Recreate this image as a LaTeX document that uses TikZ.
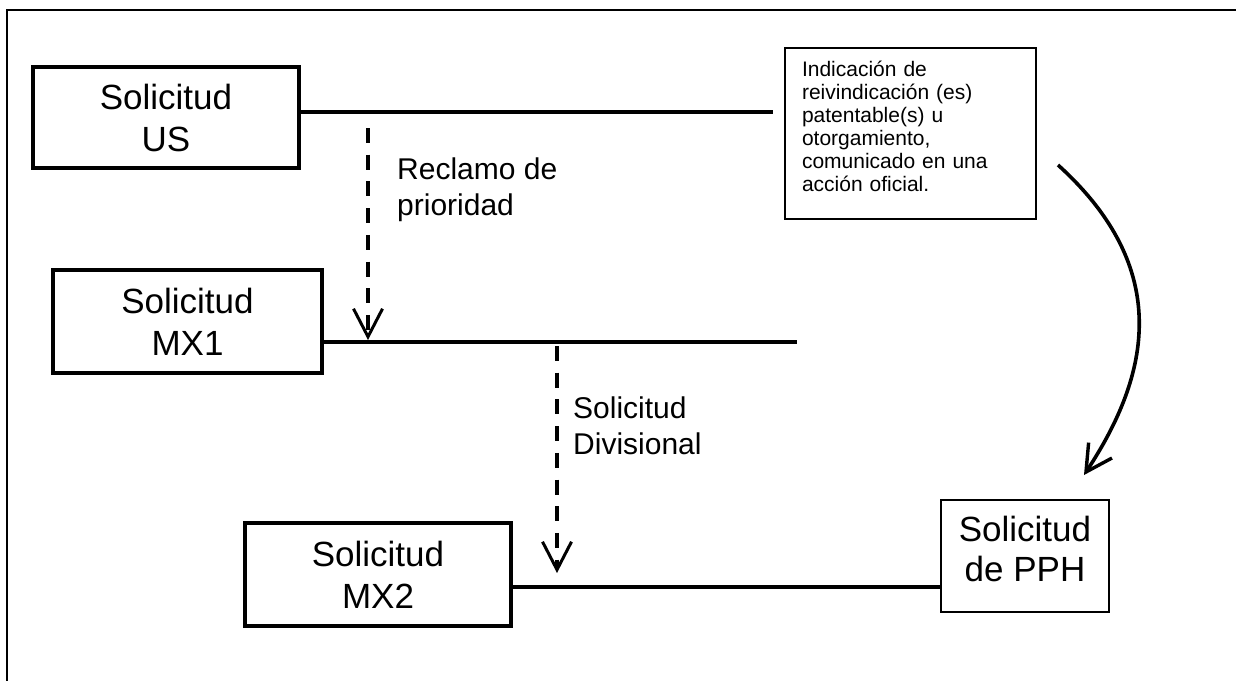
\documentclass[tikz,border=0pt]{standalone}
\usepackage{fontspec}
\setmainfont{Liberation Sans}
\usetikzlibrary{arrows.meta}
\begin{document}
\begin{tikzpicture}[x=1pt,y=-1pt,
  thickbox/.style={draw, line width=3.3pt, inner sep=0pt, align=center, font=\fontsize{35}{42}\selectfont},
  thinbox/.style={draw, line width=1.5pt, inner sep=0pt},
  conn/.style={line width=3.3pt},
  framel/.style={line width=2.5pt},
  dasharrow/.style={line width=3.4pt, dash pattern=on 15pt off 11.7pt, -{Straight Barb[length=28pt,width=29pt,line width=3pt]}},
  curvearrow/.style={line width=3.6pt, -{Straight Barb[length=26pt,width=28pt,line width=3.4pt]}},
  lbl/.style={inner sep=0pt, align=left, anchor=west, font=\fontsize{30}{36}\selectfont},
]
\useasboundingbox (0,0) rectangle (1236,681);
\fill[white] (0,0) rectangle (1236,681);
% frame
\draw[framel] (1236,10) -- (7,10) -- (7,681);

% boxes
\node[thickbox, minimum width=266pt, minimum height=101pt] (us) at (166,117.5) {Solicitud\\US};
\node[thickbox, minimum width=269pt, minimum height=103pt] (mx1) at (187.5,321.5) {Solicitud\\MX1};
\node[thickbox, minimum width=266pt, minimum height=103pt] (mx2) at (378,574.5) {Solicitud\\MX2};
\node[thinbox, align=center, font=\fontsize{35}{40}\selectfont, minimum width=168pt, minimum height=112pt] (pph) at (1025,556) {Solicitud\\de PPH\rule[-14pt]{0pt}{14pt}};
\node[thinbox, minimum width=251pt, minimum height=171pt, text width=217pt, align=left, font=\fontsize{21}{23}\selectfont] (ind) at (910.5,133.5)
  {Indicación de\\reivindicación (es)\\patentable(s) u\\otorgamiento,\\comunicado en una\\acción oficial.\rule[-14pt]{0pt}{14pt}};

% labels
\node[lbl] (prio) at (397,189.5) {Reclamo de\\prioridad};
\node[lbl] (div) at (573,425.5) {Solicitud\\Divisional};

% connector lines
\coordinate (usend) at (773,112);
\coordinate (mx1end) at (797,342);
\coordinate (mx2y) at (941,587);
\draw[conn] (us.east |- usend) -- (usend);
\draw[conn] (mx1.east |- mx1end) -- (mx1end);
\draw[conn] (mx2.east |- mx2y) -- (pph.west |- mx2y);

% dashed arrows
\coordinate (d1s) at (368,128);
\coordinate (d1e) at (368,340);
\draw[dasharrow] (d1s) -- (d1e);
\coordinate (d2s) at (557,346);
\coordinate (d2e) at (557,573);
\draw[dasharrow] (d2s) -- (d2e);

% curved arrow
\coordinate (cs) at (1058,165);
\coordinate (ce) at (1084,475);
\draw[curvearrow] (cs) .. controls (1173,269) and (1150,375) .. (ce);
\end{tikzpicture}
\end{document}
